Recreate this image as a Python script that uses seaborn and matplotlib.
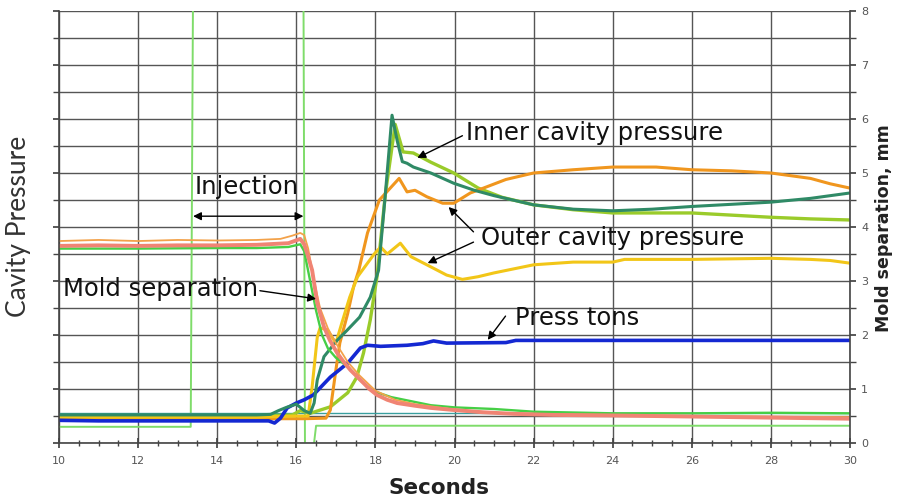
import numpy as np
import pandas as pd
import matplotlib
matplotlib.use("Agg")
import matplotlib.pyplot as plt
from matplotlib.ticker import MultipleLocator
import seaborn as sns

# ── data (all on the 0-8 right-hand scale) ──
mold_t = [10, 11, 12, 13, 14, 15, 15.8, 16.1, 16.2, 16.3, 16.4, 16.53, 16.7, 16.85, 17.03,
          17.2, 17.37, 17.55, 17.7, 17.85, 18.04, 18.3, 18.55, 19.0, 19.4, 20.0, 20.7, 21.5,
          22.5, 24, 25, 26, 27, 28, 29, 30]
mold_v = [3.65, 3.66, 3.65, 3.66, 3.66, 3.67, 3.7, 3.78, 3.68, 3.45, 3.2, 2.59, 2.15, 1.9, 1.67,
          1.5, 1.35, 1.22, 1.11, 1.0, 0.89, 0.8, 0.74, 0.69, 0.65, 0.61, 0.57, 0.54,
          0.52, 0.51, 0.5, 0.49, 0.48, 0.47, 0.46, 0.45]

mold2_t = [10, 11, 12, 13, 14, 15, 15.6, 15.9, 16.1, 16.2, 16.3, 16.45, 16.6, 16.8, 17.0, 17.3,
           17.6, 18.0, 18.5, 19.0, 20.0, 21, 22, 24, 26, 28, 30]
mold2_v = [3.74, 3.76, 3.74, 3.76, 3.75, 3.76, 3.78, 3.84, 3.89, 3.85, 3.6, 3.0, 2.5, 2.12, 1.85, 1.5,
           1.25, 0.97, 0.8, 0.72, 0.62, 0.56, 0.54, 0.52, 0.5, 0.49, 0.48]

mold3_t = [10, 12, 14, 15, 15.8, 16.1, 16.2, 16.35, 16.5, 16.65, 16.8, 17.0, 17.3, 17.6, 17.95,
           18.4, 19.0, 19.4, 20, 21, 22, 24, 26, 28, 30]
mold3_v = [3.6, 3.6, 3.61, 3.61, 3.63, 3.68, 3.55, 3.0, 2.45, 2.0, 1.75, 1.58, 1.41, 1.17, 0.96,
           0.85, 0.76, 0.7, 0.66, 0.63, 0.58, 0.55, 0.55, 0.56, 0.55]

press_t = [10, 11, 12, 13, 14, 15, 15.3, 15.45, 15.6, 15.77, 16.0, 16.2, 16.43, 16.86, 17.3, 17.62,
           17.8, 18.13, 18.8, 19.2, 19.47, 19.8, 21.3, 21.55, 22, 24, 26, 28, 30]
press_v = [0.42, 0.41, 0.41, 0.41, 0.41, 0.41, 0.41, 0.37, 0.46, 0.65, 0.74, 0.8, 0.89, 1.22, 1.48, 1.76,
           1.81, 1.79, 1.81, 1.84, 1.89, 1.85, 1.86, 1.9, 1.9, 1.9, 1.9, 1.9, 1.9]

inner1_t = [10, 12, 14, 15, 15.9, 16.1, 16.35, 16.86, 17.3, 17.53, 17.7, 17.87, 18.04, 18.25, 18.5,
            18.7, 18.96, 19.4, 19.98, 20.6, 21.2, 22, 23, 24, 25, 26, 27, 28, 29, 30]
inner1_v = [0.5, 0.5, 0.5, 0.5, 0.52, 0.6, 0.55, 0.67, 0.93, 1.22, 1.67, 2.28, 3.08, 4.6, 5.9,
            5.39, 5.37, 5.2, 5.0, 4.72, 4.55, 4.41, 4.32, 4.26, 4.26, 4.26, 4.22, 4.18, 4.15, 4.13]

inner2_t = [10, 12, 14, 15, 15.35, 15.55, 15.75, 16.0, 16.2, 16.35, 16.45, 16.53, 16.7, 17.03, 17.3,
            17.6, 17.87, 18.08, 18.25, 18.42, 18.55, 18.68, 18.8, 18.96, 19.4, 19.98, 20.5, 21.0,
            22, 23, 24, 25, 26, 27, 28, 29, 30]
inner2_v = [0.52, 0.52, 0.52, 0.52, 0.53, 0.6, 0.66, 0.72, 0.6, 0.55, 0.74, 1.17, 1.6, 1.9, 2.1,
            2.33, 2.7, 3.2, 4.6, 6.07, 5.6, 5.21, 5.18, 5.11, 5.0, 4.81, 4.68, 4.58,
            4.41, 4.33, 4.3, 4.33, 4.38, 4.42, 4.46, 4.53, 4.63]

outer1_t = [10, 12, 14, 15.5, 16.2, 16.75, 16.86, 17.0, 17.1, 17.3, 17.45, 17.58, 17.8, 18.1, 18.4,
            18.6, 18.8, 19.0, 19.3, 19.7, 19.98, 20.4, 20.73, 21.3, 22, 23, 24, 25.1, 26, 27, 28,
            29, 29.5, 30]
outer1_v = [0.45, 0.45, 0.45, 0.45, 0.45, 0.46, 0.61, 1.35, 1.85, 2.4, 2.9, 3.2, 3.89, 4.5, 4.74,
            4.9, 4.65, 4.68, 4.56, 4.44, 4.44, 4.63, 4.72, 4.88, 5.0, 5.06, 5.11, 5.11, 5.06, 5.04, 5.0,
            4.9, 4.8, 4.72]

outer2_t = [10, 12, 14, 15, 16.0, 16.3, 16.4, 16.53, 16.6, 16.78, 17.0, 17.15, 17.35, 17.55, 17.97,
            18.13, 18.3, 18.63, 18.9, 19.3, 19.8, 20.2, 20.6, 21, 22, 23, 24, 24.3, 25, 26, 27, 28,
            29, 29.5, 30]
outer2_v = [0.48, 0.48, 0.48, 0.48, 0.5, 0.5, 1.04, 1.96, 2.13, 2.1, 1.85, 2.22, 2.7, 3.08, 3.5,
            3.63, 3.5, 3.7, 3.45, 3.3, 3.11, 3.03, 3.08, 3.15, 3.3, 3.35, 3.35, 3.4, 3.4, 3.4, 3.41, 3.42,
            3.4, 3.38, 3.33]

ref_t = [10, 30]
ref_v = [0.56, 0.56]

trig_t = [10, 13.33, 13.39, 16.18, 16.22, 16.4, 16.5, 30]
trig_v = [0.3, 0.3, 8.6, 8.6, -0.3, -0.3, 0.32, 0.32]

# (name, t, v, colour, linewidth) in drawing order
series = [
    ("trigger", trig_t, trig_v, "#7fdc6a", 1.4),
    ("reference", ref_t, ref_v, "#3a9f9f", 1.0),
    ("inner1", inner1_t, inner1_v, "#9acb2a", 2.4),
    ("outer1", outer1_t, outer1_v, "#f0961e", 2.2),
    ("outer2", outer2_t, outer2_v, "#f2c618", 2.2),
    ("press", press_t, press_v, "#1428d2", 2.6),
    ("inner2", inner2_t, inner2_v, "#2f8a66", 2.2),
    ("mold3", mold3_t, mold3_v, "#46cf46", 1.7),
    ("mold2", mold2_t, mold2_v, "#f3a24a", 1.3),
    ("mold", mold_t, mold_v, "#f08474", 2.8),
]

sns.set_theme(style="white")
plt.rcParams["font.family"] = ["DejaVu Sans"]

fig = plt.figure(figsize=(8.97, 4.99), dpi=100)
ax = fig.add_axes([0.0658, 0.1122, 0.8818, 0.8658])

for name, t, v, col, lw in series:
    d = pd.DataFrame({"t": t, "v": v})
    sns.lineplot(data=d, x="t", y="v", ax=ax, color=col, lw=lw,
                 sort=False, estimator=None)

ax.set_xlim(10, 30)
ax.set_ylim(0, 8)
ax.xaxis.set_major_locator(MultipleLocator(2))
ax.xaxis.set_minor_locator(MultipleLocator(0.5))
ax.yaxis.set_major_locator(MultipleLocator(1))
ax.yaxis.set_minor_locator(MultipleLocator(0.5))
ax.grid(True, which="major", axis="x", color="#555555", lw=1)
ax.grid(True, which="both", axis="y", color="#555555", lw=1)
ax.set_axisbelow(True)

for s in ["left", "right", "bottom"]:
    ax.spines[s].set_color("#444444")
    ax.spines[s].set_linewidth(1.2)
ax.spines["top"].set_visible(False)

ax.tick_params(axis="y", which="both", left=True, right=True, labelleft=False,
               labelright=True, direction="out", length=4, color="#444444",
               labelsize=8, labelcolor="#555555", pad=4)
ax.tick_params(axis="x", which="major", bottom=True, direction="inout", length=7,
               color="#444444", labelsize=8, labelcolor="#555555", pad=6)
ax.tick_params(axis="x", which="minor", bottom=True, direction="inout", length=5,
               color="#444444")

ax.set_xlabel("")
ax.set_ylabel("")
fig.text(0.489, 0.022, "Seconds", fontsize=15.5, fontweight="bold",
         color="#222222", ha="center", va="center")
fig.text(0.986, 0.543, "Mold separation, mm", rotation=90, fontsize=12.5,
         fontweight="bold", color="#222222", ha="center", va="center")
fig.text(0.021, 0.546, "Cavity Pressure", rotation=90, fontsize=19,
         family=["Lato", "DejaVu Sans"], color="#333333", ha="center", va="center")

# ── annotations ──
txt = dict(fontsize=17.5, color="#111111", va="center", ha="left")
arr = dict(arrowstyle="-|>", color="black", lw=1, mutation_scale=12, shrinkA=0, shrinkB=0)

ax.text(13.44, 4.74, "Injection", **txt)
ax.annotate("", xy=(16.18, 4.2), xytext=(13.39, 4.2),
            arrowprops=dict(arr, arrowstyle="<|-|>"))

ax.text(10.1, 2.85, "Mold separation", **txt)
ax.annotate("", xy=(16.5, 2.67), xytext=(15.08, 2.82), arrowprops=arr)

ax.text(20.28, 5.74, "Inner cavity pressure", **txt)
ax.annotate("", xy=(19.06, 5.28), xytext=(20.2, 5.69), arrowprops=arr)

ax.text(20.66, 3.8, "Outer cavity pressure", **txt)
ax.annotate("", xy=(19.85, 4.37), xytext=(20.48, 3.91), arrowprops=arr)
ax.annotate("", xy=(19.32, 3.33), xytext=(20.48, 3.72), arrowprops=arr)

ax.text(21.52, 2.31, "Press tons", **txt)
ax.annotate("", xy=(20.84, 1.91), xytext=(21.29, 2.35), arrowprops=arr)

fig.savefig("out.png", dpi=100)
